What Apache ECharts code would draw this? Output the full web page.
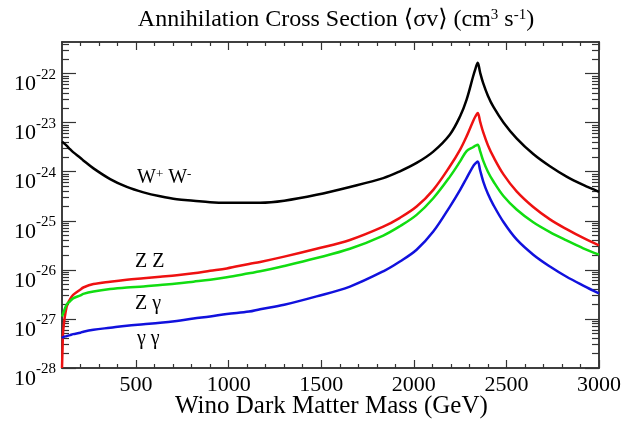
<!DOCTYPE html>
<html>
<head>
<meta charset="utf-8">
<script src="https://cdn.jsdelivr.net/npm/echarts@6/dist/echarts.min.js"></script>
<style>
html, body { margin: 0; padding: 0; background: #fff; }
#chart { width: 623px; height: 421px; }
</style>
</head>
<body>
<div id="chart"></div>
<script>
// wino mass (GeV)
var mass = [100, 103, 107, 125, 143, 160, 200, 215, 270, 360, 450, 540, 630, 720, 810, 900, 990,
	1110, 1170, 1300, 1475, 1655, 1835, 1925, 2015, 2105, 2195, 2250, 2285, 2320, 2333, 2345, 2358,
	2375, 2400, 2430, 2485, 2555, 2645, 2735, 2825, 2915, 3000];

// <sigma v> (cm^3 s^-1)
var sigmaWW = [4.07e-24, 4.03e-24, 3.89e-24, 3.39e-24, 2.88e-24, 2.51e-24, 1.91e-24, 1.70e-24, 1.17e-24, 7.08e-25, 4.90e-25, 3.80e-25, 3.16e-25, 2.75e-25, 2.57e-25, 2.40e-25, 2.34e-25,
	2.34e-25, 2.34e-25, 2.57e-25, 3.39e-25, 4.90e-25, 7.41e-25, 1.02e-24, 1.51e-24, 2.57e-24, 5.75e-24, 1.35e-23, 2.95e-23, 8.71e-23, 1.26e-22, 1.66e-22, 1.05e-22,
	6.31e-23, 3.55e-23, 2.09e-23, 1.00e-23, 4.79e-24, 2.29e-24, 1.29e-24, 7.94e-25, 5.37e-25, 3.89e-25];
var sigmaZZ = [1.0e-28, 2.51e-28, 6.03e-28, 1.78e-27, 2.51e-27, 3.09e-27, 3.98e-27, 4.37e-27, 5.13e-27, 5.75e-27, 6.31e-27, 6.76e-27, 7.24e-27, 7.76e-27, 8.51e-27, 9.55e-27, 1.07e-26,
	1.32e-26, 1.45e-26, 1.86e-26, 2.69e-26, 4.07e-26, 7.59e-26, 1.15e-25, 1.95e-25, 4.27e-25, 1.29e-24, 2.82e-24, 5.25e-24, 1.07e-23, 1.35e-23, 1.58e-23, 1.05e-23,
	6.31e-24, 3.47e-24, 2.00e-24, 8.71e-25, 3.98e-25, 1.91e-25, 1.07e-25, 6.76e-26, 4.47e-26, 3.16e-26];
var sigmaZg = [1.12e-27, 1.20e-27, 1.32e-27, 1.95e-27, 2.29e-27, 2.63e-27, 3.02e-27, 3.24e-27, 3.63e-27, 4.07e-27, 4.37e-27, 4.57e-27, 4.90e-27, 5.25e-27, 5.75e-27, 6.31e-27, 7.08e-27,
	8.51e-27, 9.33e-27, 1.20e-26, 1.74e-26, 2.69e-26, 5.01e-26, 7.76e-26, 1.32e-25, 2.88e-25, 7.94e-25, 1.62e-24, 2.63e-24, 3.16e-24, 3.39e-24, 3.55e-24, 2.63e-24,
	1.66e-24, 1.00e-24, 6.31e-25, 3.16e-25, 1.70e-25, 9.33e-26, 5.89e-26, 3.98e-26, 2.75e-26, 2.04e-26];
var sigmaGG = [4.07e-28, 4.17e-28, 4.27e-28, 4.47e-28, 4.68e-28, 4.90e-28, 5.25e-28, 5.50e-28, 6.03e-28, 6.61e-28, 7.24e-28, 7.76e-28, 8.32e-28, 9.12e-28, 1.02e-27, 1.12e-27, 1.26e-27,
	1.41e-27, 1.58e-27, 1.95e-27, 2.88e-27, 4.57e-27, 9.33e-27, 1.48e-26, 2.57e-26, 6.03e-26, 1.95e-25, 4.27e-25, 7.41e-25, 1.29e-24, 1.48e-24, 1.62e-24, 1.07e-24,
	6.31e-25, 3.55e-25, 2.09e-25, 9.33e-26, 4.17e-26, 2.04e-26, 1.17e-26, 7.24e-27, 4.79e-27, 3.31e-27];

var xMajor = [500, 1000, 1500, 2000, 2500, 3000];
var yMajor = [1e-28, 1e-27, 1e-26, 1e-25, 1e-24, 1e-23, 1e-22];
var yMin = 1e-28, yMax = 4.4e-22;

// echarts rounds tiny log extents to 0, so the log axis runs in units of 1e-28
var UNIT = 1e-28;
function u(v) { return v / UNIT; }

var xMinor = [];
for (var m = 200; m < 3000; m += 100) {
	if (m % 500 !== 0) xMinor.push(m);
}
var yMinor = [];
for (var e = 0; e <= 6; e++) {
	for (var k = 2; k <= 9; k++) {
		var v = k * Math.pow(10, e);
		if (v < u(yMax)) yMinor.push(v);
	}
}
var yMajorU = yMajor.map(function(v) { return Math.round(u(v)); });

function pairs(ys) {
	return mass.map(function(x, i) { return [x, u(ys[i])]; });
}

var serif = '"Liberation Serif", "DejaVu Serif", serif';
var axisCol = '#333';

function xAx(pos, ticks, len, labels) {
	return {
		type: 'value', min: 100, max: 3000, position: pos,
		axisLine: { show: true, onZero: false, lineStyle: { color: axisCol, width: 1.5 } },
		axisTick: { show: true, inside: true, length: len, customValues: ticks, lineStyle: { color: axisCol, width: 1.2 } },
		axisLabel: labels ? {
			show: true, customValues: xMajor, color: '#000', fontFamily: serif, fontSize: 22, margin: 6,
			formatter: function(v) { return String(v); }
		} : { show: false },
		splitLine: { show: false }
	};
}

function yAx(pos, ticks, len, labels) {
	return {
		type: 'log', logBase: 10, min: u(yMin), max: u(yMax), position: pos,
		axisLine: { show: true, onZero: false, lineStyle: { color: axisCol, width: 1.5 } },
		axisTick: { show: true, inside: true, length: len, customValues: ticks, lineStyle: { color: axisCol, width: 1.2 } },
		axisLabel: labels ? {
			show: true, customValues: yMajorU, margin: 6,
			padding: [16, 0, 0, 0],
			formatter: function(val) {
				return '{b|10}{s|' + Math.round(Math.log10(val * UNIT)) + '}';
			},
			rich: {
				b: { fontFamily: serif, fontSize: 22, color: '#000', lineHeight: 28, verticalAlign: 'bottom' },
				s: { fontFamily: serif, fontSize: 15, color: '#000', lineHeight: 15, verticalAlign: 'top' }
			}
		} : { show: false },
		splitLine: { show: false },
		minorTick: { show: false }
	};
}

function line(name, ys, color) {
	return {
		name: name, type: 'line', data: pairs(ys),
		showSymbol: false, smooth: 0.35,
		lineStyle: { color: color, width: 2.5 },
		itemStyle: { color: color },
		z: 3
	};
}

var chart = echarts.init(document.getElementById('chart'), null, { renderer: 'canvas' });
chart.setOption({
	backgroundColor: '#fff',
	animation: false,
	title: {
		text: 'Annihilation Cross Section \u27e8\u03c3v\u27e9 (cm{s|3} s{s|-1})',
		left: 331, top: 3, textAlign: 'center',
		textStyle: {
			fontFamily: serif, fontSize: 24, fontWeight: 'normal', color: '#000',
			rich: {
				s: { fontFamily: serif, fontSize: 15, color: '#000', verticalAlign: 'top', lineHeight: 15 }
			}
		}
	},
	grid: { left: 62, right: 24, top: 42, bottom: 53, outerBoundsMode: 'none', containLabel: false },
	xAxis: [
		xAx('bottom', xMajor, 8, true),
		xAx('bottom', xMinor, 4, false),
		xAx('top', xMajor, 8, false),
		xAx('top', xMinor, 4, false)
	],
	yAxis: [
		yAx('left', yMajorU, 14, true),
		yAx('left', yMinor, 7, false),
		yAx('right', yMajorU, 14, false),
		yAx('right', yMinor, 7, false)
	],
	series: [
		line('W+W-', sigmaWW, '#000000'),
		line('ZZ', sigmaZZ, '#ee1111'),
		line('Z gamma', sigmaZg, '#11dd11'),
		line('gamma gamma', sigmaGG, '#1111dd')
	],
	graphic: [
		// x axis title
		{ type: 'text', left: 175, top: 394, style: { text: 'Wino Dark Matter Mass (GeV)', fontFamily: serif, fontSize: 25, fill: '#000' } },
		{ type: 'text', left: 137, top: 168, style: { text: 'W{s|+} W{s|-}', fontFamily: serif, fontSize: 20, fill: '#000',
			rich: { s: { fontFamily: serif, fontSize: 13, verticalAlign: 'top', lineHeight: 13 } } } },
		{ type: 'text', left: 135, top: 252, style: { text: 'Z Z', fontFamily: serif, fontSize: 20, fill: '#000' } },
		{ type: 'text', left: 135, top: 294, style: { text: 'Z \u03b3', fontFamily: serif, fontSize: 20, fill: '#000' } },
		{ type: 'text', left: 137, top: 329, style: { text: '\u03b3 \u03b3', fontFamily: serif, fontSize: 20, fill: '#000' } }
	]
});
</script>
</body>
</html>
